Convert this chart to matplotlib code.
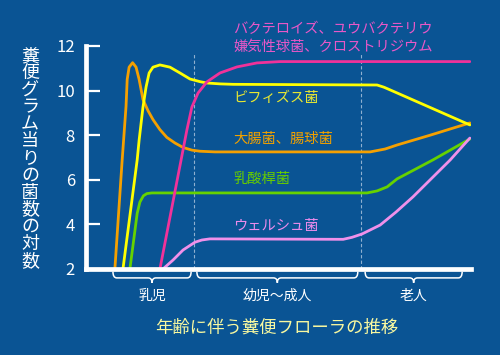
import matplotlib
matplotlib.use("Agg")
import matplotlib.pyplot as plt
from matplotlib.path import Path
from matplotlib.patches import PathPatch
import matplotlib.transforms as mtransforms

plt.rcParams['font.family'] = ['Noto Sans CJK JP', 'DejaVu Sans']

# --- data (x: position along the age axis, 0-100) ---
orange_x = [7.5, 9.4, 10.4, 10.7, 11.2, 12.1, 13.0, 13.8, 14.8, 16.1, 17.4, 19.2, 21.0,
            23.1, 25.2, 27.5, 29.6, 33.5, 73.8, 77.7, 80.8, 89.4, 99.7]
orange_y = [2.0, 6.9, 9.3, 10.5, 11.05, 11.25, 11.05, 10.5, 9.6, 9.1, 8.7, 8.25, 7.9,
            7.65, 7.45, 7.33, 7.28, 7.25, 7.25, 7.38, 7.56, 8.0, 8.55]

yellow_x = [9.6, 13.3, 13.8, 14.8, 15.6, 16.4, 17.4, 19.2, 21.8, 24.4, 27.0, 29.6, 31.4,
            34.8, 38.2, 75.6, 77.4, 79.0, 99.7]
yellow_y = [2.0, 6.9, 7.78, 9.26, 10.16, 10.79, 11.05, 11.15, 11.05, 10.79, 10.52, 10.4, 10.34,
            10.3, 10.28, 10.25, 10.15, 10.03, 8.46]

green_x = [11.4, 13.3, 14.0, 14.9, 15.8, 17.1, 73.0, 75.6, 78.2, 80.8, 90.1, 99.7]
green_y = [2.0, 4.5, 5.0, 5.28, 5.38, 5.41, 5.41, 5.5, 5.68, 6.04, 6.89, 7.83]

magenta_x = [19.2, 24.7, 26.2, 27.5, 29.1, 31.4, 34.8, 39.2, 44.4, 50.4, 99.7]
magenta_y = [2.0, 6.89, 8.23, 9.26, 9.89, 10.39, 10.79, 11.06, 11.24, 11.3, 11.3]

violet_x = [20.0, 22.6, 25.2, 28.3, 30.1, 32.2, 66.8, 69.1, 71.7, 76.4, 80.5, 84.9, 94.6, 99.7]
violet_y = [2.0, 2.4, 2.85, 3.2, 3.3, 3.35, 3.33, 3.42, 3.57, 3.97, 4.55, 5.23, 6.89, 7.87]

yticks = [2, 4, 6, 8, 10, 12]
period_edges = [28.0, 71.4]
periods = ['乳児', '幼児～成人', '老人']
period_spans = [(7.0, 27.3), (28.8, 70.6), (72.5, 97.7)]

bg = '#0a5494'

fig = plt.figure(figsize=(5, 3.55), dpi=100, facecolor=bg)
ax = fig.add_axes([0.172, 0.2423, 0.77, 0.6282], facecolor=bg)
ax.set_xlim(0, 100)
ax.set_ylim(2, 12)

for s in ['top', 'right']:
    ax.spines[s].set_visible(False)
for s in ['left', 'bottom']:
    ax.spines[s].set_color('white')
    ax.spines[s].set_linewidth(3.4)
    ax.spines[s].set_capstyle('projecting')

ax.set_xticks([])
ax.set_yticks(yticks)
ax.tick_params(axis='y', direction='in', length=10, width=1.6, color='white',
               labelcolor='white', labelsize=12, pad=8)

for xe in period_edges:
    ax.axvline(xe, ymax=0.97, color='#8fb0d0', lw=0.8, ls=(0, (3, 2)))

kw = dict(lw=2.0, solid_joinstyle='round', solid_capstyle='round')
ax.plot(orange_x, orange_y, color='#f5a000', **kw)
ax.plot(yellow_x, yellow_y, color='#ffff00', **kw)
ax.plot(green_x, green_y, color='#66d200', **kw)
ax.plot(magenta_x, magenta_y, color='#f0329a', **kw)
ax.plot(violet_x, violet_y, color='#f090ea', **kw)

lx = 38.2
ax.text(lx, 12.36, 'バクテロイズ、ユウバクテリウ\n嫌気性球菌、クロストリジウム', color='#e858c8',
        fontsize=10.3, va='center', ha='left', linespacing=1.3, clip_on=False)
ax.text(lx, 9.67, 'ビフィズス菌', color='#e8e832', fontsize=10.3, va='center')
ax.text(lx, 7.83, '大腸菌、腸球菌', color='#f0a000', fontsize=10.3, va='center')
ax.text(lx, 6.04, '乳酸桿菌', color='#66cc00', fontsize=10.3, va='center')
ax.text(lx, 3.93, 'ウェルシュ菌', color='#ec8cec', fontsize=10.3, va='center')

# braces under the axis
trans = mtransforms.blended_transform_factory(ax.transData, ax.transAxes)
top, mid, tip = -0.012, -0.040, -0.062
r = 1.0
for (x0, x1), name in zip(period_spans, periods):
    xc = (x0 + x1) / 2
    verts = [(x0, top), (x0, mid), (x0 + r, mid), (xc - r, mid), (xc, mid), (xc, tip),
             (xc, mid), (xc + r, mid), (x1 - r, mid), (x1, mid), (x1, top)]
    codes = [Path.MOVETO, Path.CURVE3, Path.CURVE3, Path.LINETO, Path.CURVE3, Path.CURVE3,
             Path.CURVE3, Path.CURVE3, Path.LINETO, Path.CURVE3, Path.CURVE3]
    ax.add_patch(PathPatch(Path(verts, codes), transform=trans, fill=False,
                           edgecolor='white', lw=1.1, clip_on=False))
    ax.text(xc, -0.12, name, transform=trans, color='white', fontsize=10,
            ha='center', va='center')

fig.text(0.06, 0.5535, '\n'.join('糞便グラム当りの菌数の対数'), color='white', fontsize=13,
         ha='center', va='center', linespacing=0.93)
fig.text(0.554, 0.076, '年齢に伴う糞便フローラの推移', color='#f8f8a0', fontsize=12.5,
         ha='center', va='center')

fig.savefig('out.png', dpi=100, facecolor=bg)
